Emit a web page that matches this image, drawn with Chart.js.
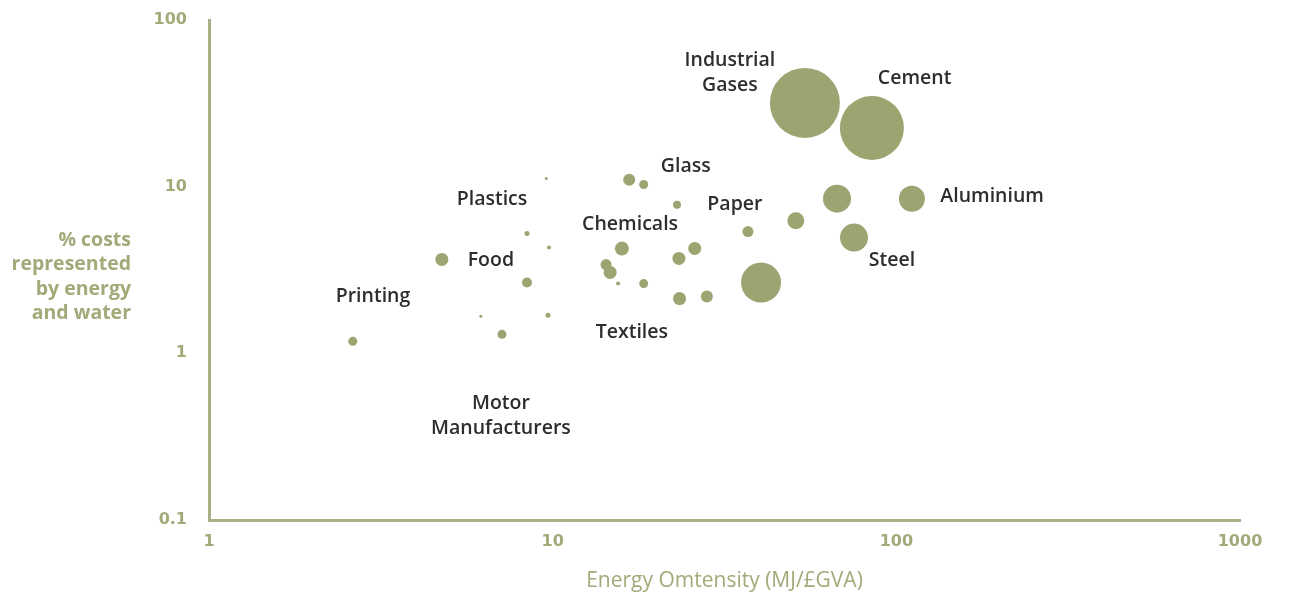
<!DOCTYPE html>
<html>
<head>
<meta charset="utf-8">
<script src="https://cdn.jsdelivr.net/npm/chart.js@4.4.1/dist/chart.umd.min.js"></script>
<style>
    body { margin: 0; background: #fff; }
    #wrap { width: 1291px; height: 599px; }
</style>
</head>
<body>
<div id="wrap"><canvas id="grafico" width="1291" height="599"></canvas></div>
<script>
// energy intensity (MJ/£GVA), % costs, bubble radius
const bubbleX = [2.62, 4.76, 8.42, 8.42, 9.76, 9.58, 7.12, 6.18, 9.69, 15.9, 14.3, 14.7, 15.5, 18.4, 23.3, 25.9, 23.4, 28.1, 16.7, 18.4, 23.0, 37.0, 51.0, 40.4, 67.2, 111, 75.3, 54.2, 84.9];
const bubbleY = [1.18, 3.66, 2.66, 5.24, 4.32, 11.2, 1.30, 1.67, 1.69, 4.25, 3.41, 3.06, 2.62, 2.62, 3.71, 4.26, 2.13, 2.19, 11.0, 10.3, 7.80, 5.38, 6.25, 2.66, 8.47, 8.47, 4.95, 31.8, 22.5];
const bubbleR = [4.5, 6.5, 5, 2.5, 2, 1.5, 4.5, 1.5, 2.5, 7, 5.5, 6.5, 2, 4.5, 6.5, 6.5, 6.5, 6, 6, 4.5, 4, 5.5, 8.5, 20, 14, 13, 14, 35, 32];

// sector names and where they sit (data coords)
const sectorNames = ["Industrial\nGases", "Cement", "Glass", "Plastics", "Paper", "Chemicals", "Aluminium", "Food", "Steel", "Printing", "Textiles", "Motor\nManufacturers"];
const sectorX = [32.8, 113, 24.4, 6.66, 33.9, 16.8, 190, 6.61, 97.1, 3.00, 17.0, 7.07];
const sectorY = [48.2, 44.4, 13.2, 8.36, 7.80, 5.92, 8.71, 3.61, 3.61, 2.19, 1.34, 0.42];

const xTicks = [1, 10, 100, 1000];
const yTicks = [0.1, 1, 10, 100];
const xTitle = "Energy Omtensity (MJ/£GVA)";
const yTitle = ["% costs", "represented", "by energy", "and water"];

const verdeOliva = "#9ba571";
const verdeTexto = "#a1aa79";
const textoOscuro = "#2e2d2c";

const puntos = bubbleX.map((x, i) => ({ x: x, y: bubbleY[i], r: bubbleR[i] }));

const etiquetasPlugin = {
    id: "etiquetas",
    afterDraw(chart) {
        const ctx = chart.ctx;
        const sx = chart.scales.x;
        const sy = chart.scales.y;
        ctx.save();
        ctx.fillStyle = textoOscuro;
        ctx.font = "600 19.5px 'Open Sans'";
        ctx.textAlign = "center";
        ctx.textBaseline = "middle";
        sectorNames.forEach((nombre, i) => {
            const px = sx.getPixelForValue(sectorX[i]);
            const py = sy.getPixelForValue(sectorY[i]);
            const lineas = nombre.split("\n");
            const alto = 25;
            const inicio = py - (lineas.length - 1) * alto / 2;
            lineas.forEach((l, j) => ctx.fillText(l, px, inicio + j * alto));
        });

        // y axis title, horizontal and right aligned
        const area = chart.chartArea;
        ctx.fillStyle = verdeTexto;
        ctx.font = "700 19.5px 'Open Sans'";
        ctx.textAlign = "right";
        const centro = (area.top + area.bottom) / 2 + 7;
        const alto = 24.5;
        const inicio = centro - (yTitle.length - 1) * alto / 2;
        yTitle.forEach((l, j) => ctx.fillText(l, area.left - 78, inicio + j * alto));
        ctx.restore();
    }
};

new Chart(document.getElementById("grafico").getContext("2d"), {
    type: "bubble",
    data: {
        datasets: [{
            data: puntos,
            backgroundColor: verdeOliva,
            borderWidth: 0,
            hoverBorderWidth: 0
        }]
    },
    options: {
        responsive: false,
        animation: false,
        events: [],
        layout: { autoPadding: false, padding: { top: 20, right: 51, left: 0, bottom: 0 } },
        plugins: {
            legend: { display: false },
            tooltip: { enabled: false }
        },
        scales: {
            x: {
                type: "logarithmic",
                min: 1,
                max: 1000,
                afterBuildTicks: (s) => { s.ticks = xTicks.map((v) => ({ value: v })); },
                afterFit: (s) => { s.height = 79; },
                grid: { display: false, drawTicks: false },
                border: { display: true, color: "#a9b184", width: 3 },
                ticks: {
                    padding: 12,
                    color: verdeTexto,
                    font: { family: "'DejaVu Sans'", weight: "bold", size: 16 },
                    callback: (v) => String(v),
                    autoSkip: false,
                    maxRotation: 0
                },
                title: {
                    display: true,
                    text: xTitle,
                    color: verdeTexto,
                    font: { family: "'Liberation Sans Narrow', 'Open Sans'", size: 21 },
                    padding: { top: 0, bottom: 5 }
                }
            },
            y: {
                type: "logarithmic",
                min: 0.1,
                max: 100,
                afterBuildTicks: (s) => { s.ticks = yTicks.map((v) => ({ value: v })); },
                afterFit: (s) => {
                    s.width = 209;
                    s.paddingTop = 10;
                    s.paddingBottom = 10;
                },
                grid: { display: false, drawTicks: false },
                border: { display: true, color: "#a9b184", width: 3 },
                ticks: {
                    padding: 22,
                    color: verdeTexto,
                    font: { family: "'DejaVu Sans'", weight: "bold", size: 16 },
                    callback: (v) => String(v),
                    autoSkip: false
                }
            }
        }
    },
    plugins: [etiquetasPlugin]
});
</script>
</body>
</html>
